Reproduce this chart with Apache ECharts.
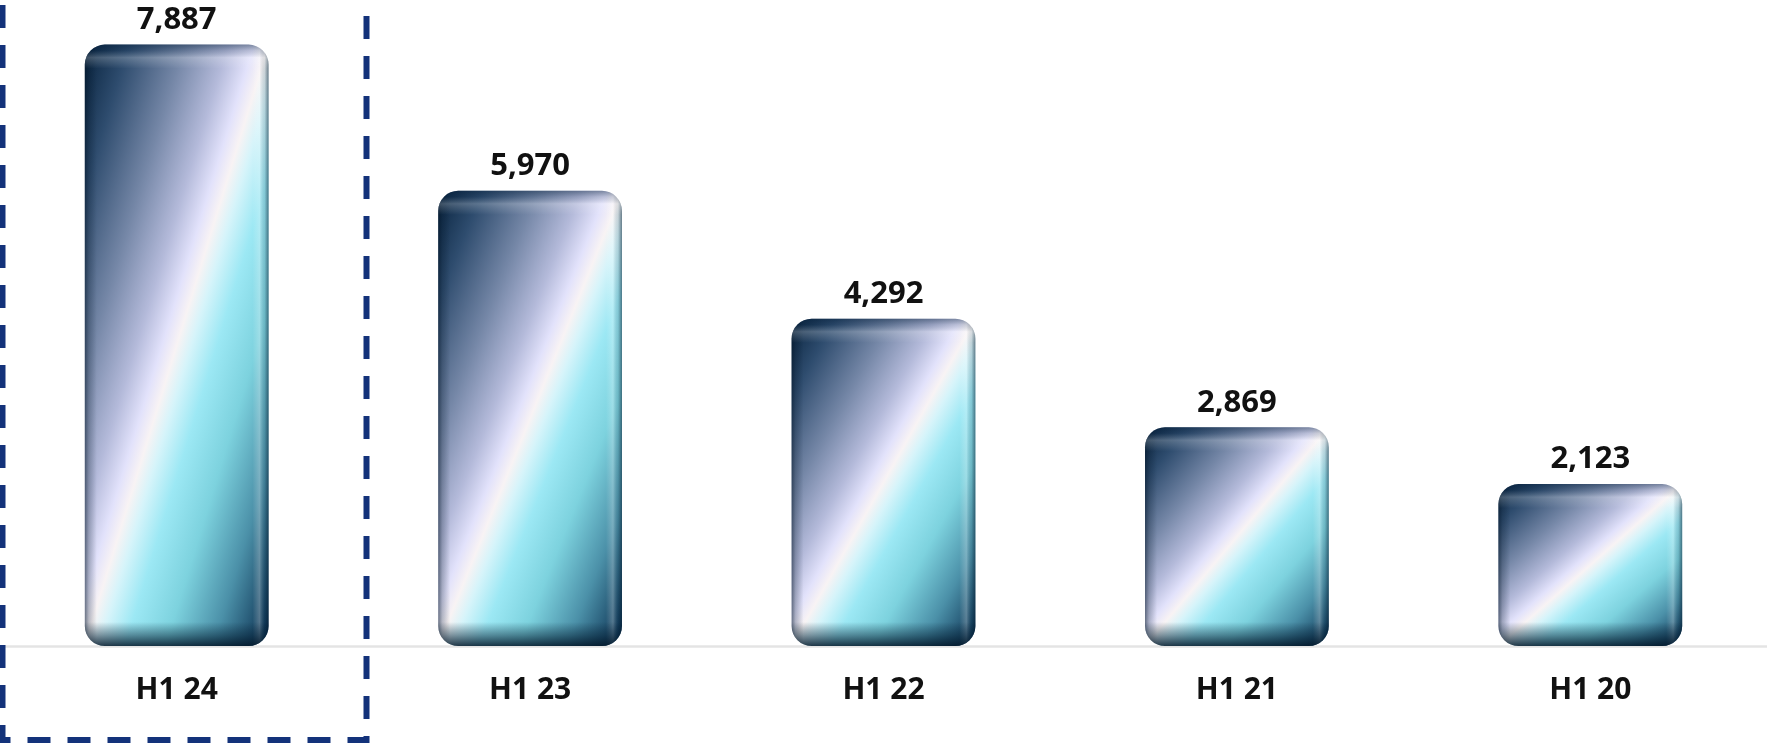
<!DOCTYPE html>
<html>
<head>
<meta charset="utf-8">
<script src="https://cdn.jsdelivr.net/npm/echarts@6/dist/echarts.min.js"></script>
<style>
  html, body { margin: 0; padding: 0; background: #ffffff; }
  #chart { width: 1767px; height: 745px; }
</style>
</head>
<body>
<div id="chart"></div>
<script>
// Half-year totals, newest first
const periods = ['H1 24', 'H1 23', 'H1 22', 'H1 21', 'H1 20'];
const totals = [7887, 5970, 4292, 2869, 2123];

const FONT = '"Open Sans", "Noto Sans", sans-serif';
const RADIUS = 20;

const chart = echarts.init(document.getElementById('chart'), null, { renderer: 'canvas' });

// Glossy diagonal fill: dark navy -> lavender -> soft white streak -> cyan -> dark teal
const glossStops = [
  { offset: 0.00, color: '#07223d' },
  { offset: 0.12, color: '#2e4c6e' },
  { offset: 0.27, color: '#7587a7' },
  { offset: 0.39, color: '#b4bada' },
  { offset: 0.46, color: '#e2e2fb' },
  { offset: 0.50, color: '#f8f3f4' },
  { offset: 0.54, color: '#d6f4fa' },
  { offset: 0.61, color: '#9ce8f4' },
  { offset: 0.72, color: '#7dd2de' },
  { offset: 0.85, color: '#4b90a8' },
  { offset: 1.00, color: '#06284a' }
];

function baseSeries(name, z) {
  return {
    name: name,
    type: 'bar',
    data: totals.slice(),
    barWidth: '52%',
    barGap: '-100%',
    z: z,
    silent: true,
    itemStyle: { borderRadius: RADIUS, color: 'rgba(0,0,0,0)' }
  };
}

const option = {
  animation: false,
  backgroundColor: '#ffffff',
  grid: { left: -5, right: -1, top: 36, bottom: 99, containLabel: false },
  xAxis: {
    type: 'category',
    data: periods,
    axisLine: { show: true, lineStyle: { color: '#e4e4e4', width: 2.5 } },
    axisTick: { show: false },
    axisLabel: {
      margin: 29,
      color: '#111111',
      fontFamily: FONT,
      fontWeight: 'bold',
      fontSize: 30
    }
  },
  yAxis: {
    type: 'value',
    min: 0,
    max: 8000,
    show: false,
    splitLine: { show: false }
  },
  series: [
    Object.assign(baseSeries('fill', 2), {
      label: {
        show: true,
        position: 'top',
        distance: 9,
        color: '#111111',
        fontFamily: FONT,
        fontWeight: 'bold',
        fontSize: 31,
        formatter: p => p.value.toLocaleString('en-US')
      }
    }),
    baseSeries('edgeShade', 3),
    baseSeries('bevel', 4)
  ],
  graphic: [{
    type: 'rect',
    z: 10,
    silent: true,
    shape: { x: 2.5, y: -20, width: 364, height: 760 },
    style: { fill: 'none', stroke: '#13327a', lineWidth: 6, lineDash: [23, 17] }
  }]
};

chart.setOption(option);

// Per-bar gradients based on the laid-out bar size
const layoutData = chart.getModel().getSeriesByIndex(0).getData();
const fillItems = [], edgeItems = [], bevelItems = [];
totals.forEach((v, i) => {
  const lay = layoutData.getItemLayout(i);
  const w = Math.abs(lay.width), h = Math.abs(lay.height);
  // gradient normal chosen so iso-lines follow the bar's anti-diagonal
  const d = w * w + h * h;
  fillItems.push({
    value: v,
    itemStyle: {
      borderRadius: RADIUS,
      color: new echarts.graphic.LinearGradient(0, 0, 2 * h * h / d, 2 * w * w / d, glossStops)
    }
  });
  const ex = px => px / w;
  edgeItems.push({
    value: v,
    itemStyle: {
      borderRadius: RADIUS,
      color: new echarts.graphic.LinearGradient(0, 0, 1, 0, [
        { offset: 0, color: 'rgba(2,20,38,0.55)' },
        { offset: ex(4), color: 'rgba(2,20,38,0.25)' },
        { offset: ex(12), color: 'rgba(2,20,38,0)' },
        { offset: 1 - ex(16), color: 'rgba(255,255,255,0)' },
        { offset: 1 - ex(9), color: 'rgba(255,255,255,0.25)' },
        { offset: 1 - ex(4), color: 'rgba(2,30,50,0.15)' },
        { offset: 1, color: 'rgba(2,25,45,0.55)' }
      ])
    }
  });
  const ey = px => px / h;
  bevelItems.push({
    value: v,
    itemStyle: {
      borderRadius: RADIUS,
      color: new echarts.graphic.LinearGradient(0, 0, 0, 1, [
        { offset: 0, color: 'rgba(4,30,58,0.45)' },
        { offset: ey(6), color: 'rgba(4,30,58,0.18)' },
        { offset: ey(13), color: 'rgba(255,255,255,0.22)' },
        { offset: ey(24), color: 'rgba(255,255,255,0)' },
        { offset: 1 - ey(24), color: 'rgba(4,30,50,0)' },
        { offset: 1 - ey(11), color: 'rgba(4,30,50,0.45)' },
        { offset: 1, color: 'rgba(2,22,40,0.85)' }
      ])
    }
  });
});

chart.setOption({
  series: [{ data: fillItems }, { data: edgeItems }, { data: bevelItems }]
});
</script>
</body>
</html>
